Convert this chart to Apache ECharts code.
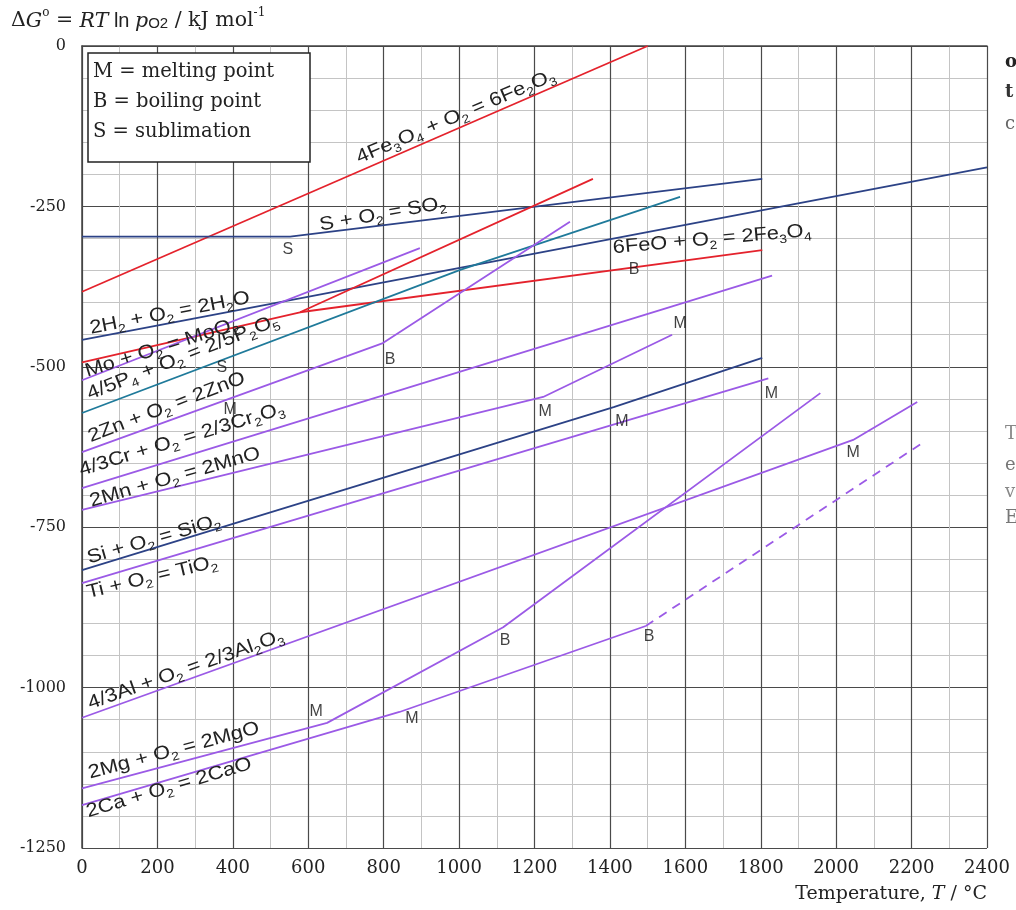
<!DOCTYPE html>
<html>
<head>
<meta charset="utf-8">
<script src="https://cdn.jsdelivr.net/npm/echarts/dist/echarts.min.js"></script>
<style>
  html, body { margin: 0; padding: 0; background: #fff; }
  #chart { width: 1016px; height: 910px; }
</style>
</head>
<body>
<div id="chart"></div>
<script>
// Ellingham diagram: standard free energy of oxide formation vs temperature
// Each line: [temperature / °C, ΔG° / kJ mol-1]
const fe3o4ToFe2o3 = [[0, -383], [1500, 0]];
const sToSO2 = [[0, -297], [552, -297], [1804, -207]];
const h2ToH2O = [[0, -458], [2400, -189]];
const moToMoO2 = [[0, -493], [578, -415], [1355, -207]];
const feoToFe3o4 = [[578, -415], [1804, -318]];
const upperMetal = [[0, -521], [896, -315]];
const p4ToP2O5 = [[0, -572], [1003, -349], [1586, -235]];
const znToZnO = [[0, -633], [798, -463], [1294, -274]];
const crToCr2O3 = [[0, -689], [1830, -358]];
const mnToMnO = [[0, -723], [1223, -547], [1565, -450]];
const siToSiO2 = [[0, -817], [1410, -563], [1804, -486]];
const tiToTiO2 = [[0, -837], [1820, -518]];
const alToAl2O3 = [[0, -1047], [2045, -614], [2215, -555]];
const mgToMgO = [[0, -1157], [650, -1055], [1117, -906], [1958, -541]];
const caToCaO = [[0, -1183], [842, -1038], [1495, -904]];
const caToCaOVapour = [[1495, -904], [2228, -619]];

// phase-change markers: letter, temperature, ΔG°
const phaseMarks = [
  ['S', 546, -318], ['S', 371, -502], ['M', 393, -567], ['B', 817, -489],
  ['B', 1464, -349], ['M', 1586, -432], ['M', 1228, -570], ['M', 1432, -586],
  ['M', 1828, -541], ['M', 2045, -634], ['B', 1122, -926], ['B', 1504, -921],
  ['M', 621, -1037], ['M', 875, -1049]
];

// reaction equations
const equations = [
  '4Fe3O4 + O2 = 6Fe2O3', 'S + O2 = SO2', '6FeO + O2 = 2Fe3O4', '2H2 + O2 = 2H2O',
  'Mo + O2 = MoO2', '4/5P4 + O2 = 2/5P2O5', '2Zn + O2 = 2ZnO', '4/3Cr + O2 = 2/3Cr2O3',
  '2Mn + O2 = 2MnO', 'Si + O2 = SiO2', 'Ti + O2 = TiO2', '4/3Al + O2 = 2/3Al2O3',
  '2Mg + O2 = 2MgO', '2Ca + O2 = 2CaO'
];

const xTickStep = 200;
const yTickStep = 250;
const legendLines = ['M = melting point', 'B = boiling point', 'S = sublimation'];

// where each equation is written (data coords of text centre) and its tilt in degrees
const equationPlacement = [
  [992, -111, 23], [798, -263, 10], [1671, -302, 5], [233, -417, 11],
  [212, -471, 17.5], [268, -486, 21.5], [225, -564, 21], [265, -614, 17],
  [247, -673, 16], [191, -770, 16], [186, -829, 13.5], [276, -973, 19.5],
  [244, -1099, 15], [231, -1157, 16.5]
];

const RED = '#e4222c';
const PURPLE = '#9b5ae6';
const NAVY = '#2c4286';
const TEAL = '#1f7a9a';

const lineDefs = [
  { data: fe3o4ToFe2o3, color: RED },
  { data: sToSO2, color: NAVY },
  { data: h2ToH2O, color: NAVY },
  { data: moToMoO2, color: RED },
  { data: feoToFe3o4, color: RED },
  { data: upperMetal, color: PURPLE },
  { data: p4ToP2O5, color: TEAL },
  { data: znToZnO, color: PURPLE },
  { data: crToCr2O3, color: PURPLE },
  { data: mnToMnO, color: PURPLE },
  { data: siToSiO2, color: NAVY },
  { data: tiToTiO2, color: PURPLE },
  { data: alToAl2O3, color: PURPLE },
  { data: mgToMgO, color: PURPLE },
  { data: caToCaO, color: PURPLE },
  { data: caToCaOVapour, color: PURPLE, dashed: true }
];

const chart = echarts.init(document.getElementById('chart'), null, { renderer: 'canvas' });

const series = lineDefs.map(d => ({
  type: 'line',
  data: d.data,
  symbol: 'none',
  silent: true,
  animation: false,
  lineStyle: { color: d.color, width: 1.8, type: d.dashed ? [9, 7] : 'solid' },
  z: 3
}));

series.push({
  type: 'scatter',
  data: phaseMarks.map(m => ({ name: m[0], value: [m[1], m[2]] })),
  symbolSize: 0,
  silent: true,
  animation: false,
  label: {
    show: true,
    position: 'inside',
    formatter: p => p.name,
    fontFamily: 'Liberation Sans',
    fontSize: 16,
    color: '#111'
  },
  z: 4
});

chart.setOption({
  backgroundColor: '#fff',
  animation: false,
  grid: { left: 82, right: 29, top: 46, bottom: 62, containLabel: false },
  xAxis: {
    type: 'value', min: 0, max: 2400, interval: xTickStep,
    axisLine: { show: true, lineStyle: { color: '#444', width: 1.5 } },
    axisTick: { show: false },
    axisLabel: { fontFamily: 'DejaVu Serif', fontSize: 18, color: '#222', margin: 11, formatter: v => String(v) },
    splitLine: { show: true, lineStyle: { color: '#4a4a4a', width: 1.2 } },
    minorTick: { show: false, splitNumber: 2 },
    minorSplitLine: { show: true, lineStyle: { color: '#c4c4c4', width: 1 } }
  },
  yAxis: {
    type: 'value', min: -1250, max: 0, interval: yTickStep,
    axisLine: { show: true, lineStyle: { color: '#444', width: 1.5 } },
    axisTick: { show: false },
    axisLabel: { fontFamily: 'DejaVu Serif', fontSize: 16, color: '#222', margin: 16, formatter: v => String(v) },
    splitLine: { show: true, lineStyle: { color: '#4a4a4a', width: 1.2 } },
    minorTick: { show: false, splitNumber: 5 },
    minorSplitLine: { show: true, lineStyle: { color: '#c4c4c4', width: 1 } }
  },
  series: series
});

// split an equation into normal text and subscript runs for rich text
function richFormula(str) {
  let out = '';
  let run = '';
  let runSub = false;
  for (let i = 0; i < str.length; i++) {
    const c = str[i];
    const prev = i > 0 ? str[i - 1] : '';
    const isSub = /\d/.test(c) && (/[A-Za-z]/.test(prev) || (runSub && /\d/.test(prev)));
    if (run && isSub !== runSub) {
      out += '{' + (runSub ? 's' : 'n') + '|' + run + '}';
      run = '';
    }
    runSub = isSub;
    run += c;
  }
  if (run) out += '{' + (runSub ? 's' : 'n') + '|' + run + '}';
  return out;
}

const formulaRich = {
  n: { fontFamily: 'Liberation Sans', fontSize: 19, lineHeight: 24, fill: '#222', verticalAlign: 'bottom', padding: [0, 0, 3, 0] },
  s: { fontFamily: 'Liberation Sans', fontSize: 12, lineHeight: 14, fill: '#222', verticalAlign: 'bottom' }
};

const graphics = [];

equations.forEach((eq, i) => {
  const pl = equationPlacement[i];
  const p = chart.convertToPixel({ gridIndex: 0 }, [pl[0], pl[1]]);
  graphics.push({
    type: 'text',
    x: p[0], y: p[1],
    rotation: pl[2] * Math.PI / 180,
    scaleX: 1.15,
    silent: true,
    z: 10,
    style: {
      text: richFormula(eq),
      rich: formulaRich,
      align: 'center',
      verticalAlign: 'middle'
    }
  });
});

// key box
graphics.push({
  type: 'rect',
  shape: { x: 88, y: 53, width: 222, height: 109 },
  style: { fill: '#fff', stroke: '#222', lineWidth: 1.5 },
  z: 20, silent: true
});
legendLines.forEach((t, i) => {
  graphics.push({
    type: 'text', x: 93, y: 72 + i * 30, z: 21, silent: true,
    style: { text: t, fontFamily: 'DejaVu Serif', fontSize: 19.5, fill: '#222', align: 'left', verticalAlign: 'middle' }
  });
});

// y axis title
graphics.push({
  type: 'text', x: 11, y: 19, z: 21, silent: true,
  style: {
    text: '{r|Δ}{i|G}{sup|o}{r| = }{i|RT}{ln| ln }{i|p}{sb|O2}{r| / kJ mol}{sup|-1}',
    align: 'left', verticalAlign: 'middle',
    rich: {
      r: { fontFamily: 'DejaVu Serif', fontSize: 20.5, fill: '#222', verticalAlign: 'bottom', lineHeight: 25 },
      i: { fontFamily: 'DejaVu Serif', fontStyle: 'italic', fontSize: 20.5, fill: '#222', verticalAlign: 'bottom', lineHeight: 25 },
      ln: { fontFamily: 'Liberation Sans', fontSize: 20, fill: '#222', verticalAlign: 'bottom', lineHeight: 25 },
      sb: { fontFamily: 'Liberation Sans', fontSize: 15, fill: '#222', verticalAlign: 'bottom', lineHeight: 21 },
      sup: { fontFamily: 'DejaVu Serif', fontSize: 12, fill: '#222', verticalAlign: 'top', lineHeight: 25 }
    }
  }
});

// x axis title
graphics.push({
  type: 'text', x: 987, y: 894, z: 21, silent: true,
  style: {
    text: '{r|Temperature, }{i|T}{r| / °C}',
    align: 'right', verticalAlign: 'middle',
    rich: {
      r: { fontFamily: 'DejaVu Serif', fontSize: 19, fill: '#222' },
      i: { fontFamily: 'DejaVu Serif', fontStyle: 'italic', fontSize: 19, fill: '#222' }
    }
  }
});

// text running off the right-hand edge
[['o', 62, '#222', 'bold'], ['t', 92, '#333', 'bold'], ['c', 124, '#666', 'normal'],
 ['T', 434, '#888', 'normal'], ['e', 465, '#777', 'normal'], ['v', 492, '#888', 'normal'], ['E', 518, '#777', 'normal']]
  .forEach(f => {
    graphics.push({
      type: 'text', x: 1005, y: f[1], z: 21, silent: true,
      style: { text: f[0], fontFamily: 'DejaVu Serif', fontWeight: f[3], fontSize: 18, fill: f[2], align: 'left', verticalAlign: 'middle' }
    });
  });

chart.setOption({ graphic: graphics });
</script>
</body>
</html>
